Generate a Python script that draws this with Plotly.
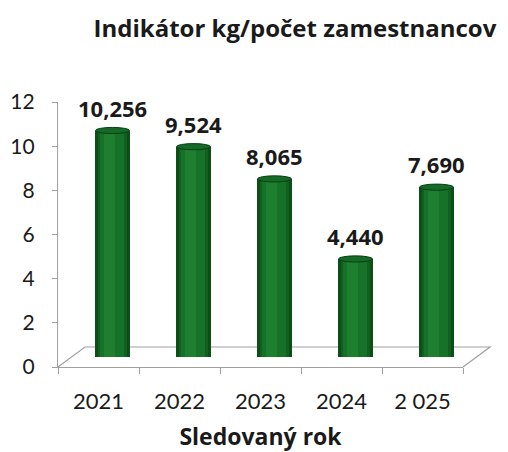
import plotly.graph_objects as go

# ---- data ----
years = ["2021", "2022", "2023", "2024", "2 025"]
values = [10.256, 9.524, 8.065, 4.440, 7.690]
y_ticks = [0, 2, 4, 6, 8, 10, 12]
title_text = "Indikátor kg/počet zamestnancov"
x_title = "Sledovaný rok"

# ---- geometry (pixels) ----
OFF = 8                               # browser body margin
W, H = 508 - OFF, 452 - OFF
L, R, T, B = 58 - OFF, 17, 92 - OFF, 85   # paper area
pw, ph = W - L - R, H - T - B
front_w, front_h = 405, 265
depth_x, depth_y = 27, 20            # floor depth offset
bar_dx, bar_dy = 14, 10              # bars sit mid-depth

FONT = "Lato"
BFONT = "Open Sans"
TXT = "#1a1a1a"
idx = list(range(len(years)))
labels = [f"{v:.3f}".replace(".", ",") for v in values]

fig = go.Figure()

# cylinder: layered bars for shading
layers = [(0.42, "#0b4f16", 0.0), (0.36, "#116020", 0.0), (0.30, "#177229", -0.01), (0.14, "#1e7f31", -0.04)]
for w, c, off in layers:
    fig.add_trace(go.Bar(
        x=[i + off for i in idx], y=values, width=w,
        marker=dict(color=c, line=dict(width=0)),
        xaxis="x2", yaxis="y2", hoverinfo="skip", showlegend=False,
    ))

# dummy trace for front axis
fig.add_trace(go.Scatter(x=years, y=[None] * len(years), xaxis="x", yaxis="y",
                         mode="markers", showlegend=False, hoverinfo="skip"))

shapes = []
cap = 0.14
for i, v in zip(idx, values):
    shapes.append(dict(type="circle", xref="x2", yref="y2", x0=i - 0.21, x1=i + 0.21,
                       y0=-cap, y1=cap, fillcolor="#0b4f16", line=dict(width=0), layer="below"))
    shapes.append(dict(type="circle", xref="x2", yref="y2", x0=i - 0.21, x1=i + 0.21,
                       y0=v - cap, y1=v + cap, fillcolor="#146a26",
                       line=dict(color="#0a3f12", width=1), layer="above"))

# floor (3D base) lines in paper coords
fx0, fx1 = 0, front_w / pw
bx0, bx1 = depth_x / pw, (front_w + depth_x) / pw
by = depth_y / ph
floor_col = "#a0a0a0"
shapes.append(dict(type="path", xref="paper", yref="paper",
                   path=f"M {fx0} 0 L {bx0} {by} L {bx1} {by} L {fx1} 0",
                   line=dict(color=floor_col, width=1.2), layer="below"))

annotations = []
for i, v, t in zip(idx, values, labels):
    annotations.append(dict(x=i, y=v, xref="x2", yref="y2", text=f"<b>{t}</b>", showarrow=False,
                            yanchor="bottom", yshift=6,
                            font=dict(family=BFONT, size=22, color=TXT)))

fig.update_layout(
    width=W, height=H,
    margin=dict(l=L, r=R, t=T, b=B, autoexpand=False),
    paper_bgcolor="white", plot_bgcolor="rgba(0,0,0,0)",
    barmode="overlay", bargap=0,
    title=dict(text=f"<b>{title_text}</b>", x=(295 - OFF) / W, xanchor="center",
               y=1 - (29 - OFF) / H, yanchor="middle",
               font=dict(family=BFONT, size=24, color=TXT)),
    xaxis=dict(domain=[0, front_w / pw], type="category", categoryorder="array", categoryarray=years,
               range=[-0.5, len(years) - 0.5], showline=True, linecolor=floor_col, linewidth=1.2,
               ticks="outside", tickson="boundaries", ticklen=6, tickcolor=floor_col,
               tickfont=dict(family=FONT, size=22, color=TXT), ticklabelstandoff=14,
               title=dict(text=f"<b>{x_title}</b>", font=dict(family=BFONT, size=23, color=TXT), standoff=26),
               showgrid=False, zeroline=False, anchor="y", fixedrange=True, automargin=False),
    yaxis=dict(domain=[0, front_h / ph], range=[0, 12], tickvals=y_ticks, showline=True,
               linecolor=floor_col, linewidth=1.2, ticks="outside", ticklen=5, tickcolor=floor_col,
               tickfont=dict(family=FONT, size=21, color=TXT), ticklabelstandoff=13,
               showgrid=False, zeroline=False, anchor="x", fixedrange=True, automargin=False),
    xaxis2=dict(domain=[bar_dx / pw, (front_w + bar_dx) / pw], range=[-0.5, len(years) - 0.5],
                visible=False, anchor="y2", fixedrange=True),
    yaxis2=dict(domain=[bar_dy / ph, (front_h + bar_dy) / ph], range=[0, 12],
                visible=False, anchor="x2", fixedrange=True),
    shapes=shapes, annotations=annotations,
)

fig.write_html("out.html")
